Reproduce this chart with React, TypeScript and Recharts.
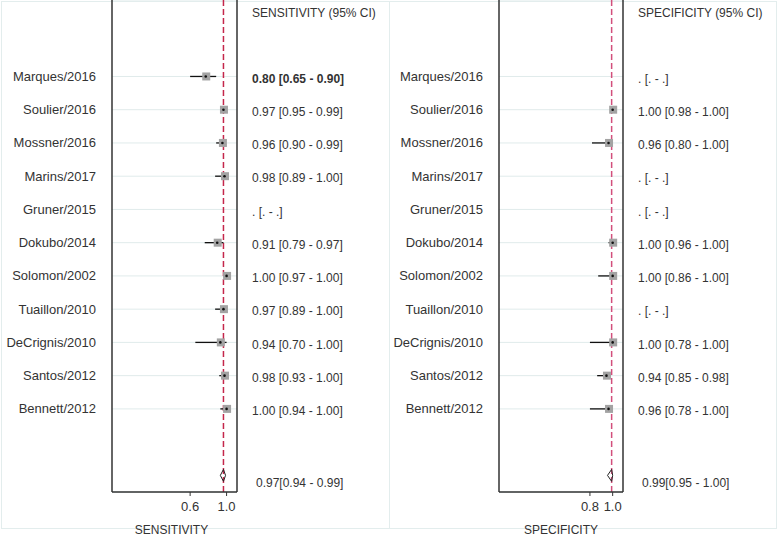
import { ScatterChart, Scatter, XAxis, YAxis, ErrorBar, ReferenceLine, CartesianGrid } from 'recharts';

const studies = [
  'Marques/2016', 'Soulier/2016', 'Mossner/2016', 'Marins/2017', 'Gruner/2015', 'Dokubo/2014',
  'Solomon/2002', 'Tuaillon/2010', 'DeCrignis/2010', 'Santos/2012', 'Bennett/2012',
];

// null = not estimable for that study
const sensEst = [0.80, 0.97, 0.96, 0.98, null, 0.91, 1.00, 0.97, 0.94, 0.98, 1.00];
const sensLow = [0.65, 0.95, 0.90, 0.89, null, 0.79, 0.97, 0.89, 0.70, 0.93, 0.94];
const sensHigh = [0.90, 0.99, 0.99, 1.00, null, 0.97, 1.00, 1.00, 1.00, 1.00, 1.00];
const sensPooled = [0.97, 0.94, 0.99];

const specEst = [null, 1.00, 0.96, null, null, 1.00, 1.00, null, 1.00, 0.94, 0.96];
const specLow = [null, 0.98, 0.80, null, null, 0.96, 0.86, null, 0.78, 0.85, 0.78];
const specHigh = [null, 1.00, 1.00, null, null, 1.00, 1.00, null, 1.00, 0.98, 1.00];
const specPooled = [0.99, 0.95, 1.00];

const sensTicks = [0.65, 1.0];
const sensTickLabels = ['0.6', '1.0'];
const specTicks = [0.78, 1.0];
const specTickLabels = ['0.8', '1.0'];

const HEADER_ROW = -1;
const SUMMARY_ROW = 13;
const Y_DOMAIN: [number, number] = [-1.3, 13.5];
const X_DOMAIN: [number, number] = [-0.1, 1.1];

const studyRows = studies.map((_, i) => i + 1);
const textRows = [HEADER_ROW, ...studyRows, SUMMARY_ROW];

const f2 = (v: number) => v.toFixed(2);

type PanelProps = {
  title: string;
  est: (number | null)[];
  low: (number | null)[];
  high: (number | null)[];
  pooled: number[];
  ticks: number[];
  tickLabels: string[];
  width: number;
  leftW: number;
  rightW: number;
  refColor: string;
  titleDx?: number;
  boldFirst?: boolean;
};

function ForestPanel({ title, est, low, high, pooled, ticks, tickLabels, width, leftW, rightW, refColor, titleDx = 0, boldFirst }: PanelProps) {
  const points = studies
    .map((s, i) => ({ study: s, x: est[i], y: i + 1, err: est[i] == null ? null : [est[i]! - low[i]!, high[i]! - est[i]!] }))
    .filter((d) => d.x != null);

  const [pEst, pLo, pHi] = pooled;
  const diamond = [
    { x: pLo, y: SUMMARY_ROW },
    { x: pEst, y: SUMMARY_ROW - 0.18 },
    { x: pHi, y: SUMMARY_ROW },
    { x: pEst, y: SUMMARY_ROW + 0.18 },
    { x: pLo, y: SUMMARY_ROW },
  ];

  const rowText = (row: number) => {
    if (row === HEADER_ROW) return `${title} (95% CI)`;
    if (row === SUMMARY_ROW) return `${f2(pEst)}[${f2(pLo)} - ${f2(pHi)}]`;
    const i = row - 1;
    if (est[i] == null) return '. [. - .]';
    return `${f2(est[i]!)} [${f2(low[i]!)} - ${f2(high[i]!)}]`;
  };

  const NameTick = ({ x, y, payload }: any) => (
    <text x={x} y={y} dy="0.35em" textAnchor="end" fontSize={13} fill="#333">
      {studies[payload.value - 1]}
    </text>
  );

  const ValueTick = ({ x, y, payload }: any) => {
    const row = payload.value;
    const isSum = row === SUMMARY_ROW;
    return (
      <text
        x={x + (isSum ? 4 : 0)}
        y={y + (isSum ? 7 : row === HEADER_ROW ? 3 : 2)}
        dy="0.35em"
        textAnchor="start"
        fontSize={12}
        fill="#333"
        fontWeight={boldFirst && row === 1 ? 'bold' : 'normal'}
      >
        {rowText(row)}
      </text>
    );
  };

  return (
    <ScatterChart width={width} height={537} margin={{ top: 0, right: 0, bottom: 0, left: 0 }}>
      <CartesianGrid vertical={false} yAxisId="left" stroke="#e0ebeb" />
      <XAxis
        type="number"
        dataKey="x"
        domain={X_DOMAIN}
        allowDataOverflow
        ticks={ticks}
        interval={0}
        tickFormatter={(v: number) => tickLabels[ticks.indexOf(v)] ?? ''}
        height={45}
        tickSize={4}
        tickMargin={6}
        tick={{ fontSize: 13, fill: '#333' }}
        axisLine={{ stroke: '#333', strokeWidth: 1.5 }}
        tickLine={{ stroke: '#333' }}
        label={{ value: title, position: 'insideBottom', offset: 3, dx: titleDx, fontSize: 12, fill: '#333' }}
      />
      <YAxis
        yAxisId="left"
        type="number"
        dataKey="y"
        domain={Y_DOMAIN}
        allowDataOverflow
        reversed
        ticks={studyRows}
        interval={0}
        width={leftW}
        tickSize={0}
        tickMargin={16}
        tickLine={false}
        axisLine={{ stroke: '#333', strokeWidth: 1.5 }}
        tick={<NameTick />}
      />
      <YAxis
        yAxisId="right"
        orientation="right"
        type="number"
        dataKey="y"
        domain={Y_DOMAIN}
        allowDataOverflow
        reversed
        ticks={textRows}
        interval={0}
        width={rightW}
        tickSize={0}
        tickMargin={15}
        tickLine={false}
        axisLine={{ stroke: '#333', strokeWidth: 1.5 }}
        tick={<ValueTick />}
      />
      <ReferenceLine x={pEst} yAxisId="left" stroke={refColor} strokeWidth={1.5} strokeDasharray="6 3" />
      <Scatter
        yAxisId="left"
        data={points}
        isAnimationActive={false}
        shape={(p: any) => (
          <g>
            <rect x={p.cx - 3.5} y={p.cy - 4} width={8} height={8} fill="#a3a3a3" />
            <circle cx={p.cx} cy={p.cy} r={1.3} fill="#111" />
          </g>
        )}
      >
        <ErrorBar dataKey="err" direction="x" width={0} stroke="#111" strokeWidth={1.3} isAnimationActive={false} />
      </Scatter>
      <Scatter
        yAxisId="right"
        data={diamond}
        isAnimationActive={false}
        line={{ stroke: '#222', strokeWidth: 1 }}
        lineType="joint"
        shape={() => <g />}
      />
    </ScatterChart>
  );
}

export default function App() {
  return (
    <div
      style={{
        position: 'absolute',
        left: 0,
        top: 0,
        width: 778,
        height: 537,
        background: '#fff',
        fontFamily: '"Liberation Sans", Arial, sans-serif',
      }}
    >
      <div style={{ position: 'absolute', left: 1, top: 1, width: 389, height: 528, boxSizing: 'border-box', border: '1px solid #e3eded' }} />
      <div style={{ position: 'absolute', left: 389, top: 1, width: 388, height: 528, boxSizing: 'border-box', border: '1px solid #e3eded' }} />
      <div style={{ position: 'absolute', left: 0, top: 0 }}>
        <ForestPanel
          title="SENSITIVITY"
          est={sensEst}
          low={sensLow}
          high={sensHigh}
          pooled={sensPooled}
          ticks={sensTicks}
          tickLabels={sensTickLabels}
          width={390}
          leftW={112}
          rightW={153}
          refColor="#c4264b"
          titleDx={-3}
          boldFirst
        />
      </div>
      <div style={{ position: 'absolute', left: 390, top: 0 }}>
        <ForestPanel
          title="SPECIFICITY"
          est={specEst}
          low={specLow}
          high={specHigh}
          pooled={specPooled}
          ticks={specTicks}
          tickLabels={specTickLabels}
          width={388}
          leftW={109}
          rightW={155}
          refColor="#d24f7c"
        />
      </div>
    </div>
  );
}
